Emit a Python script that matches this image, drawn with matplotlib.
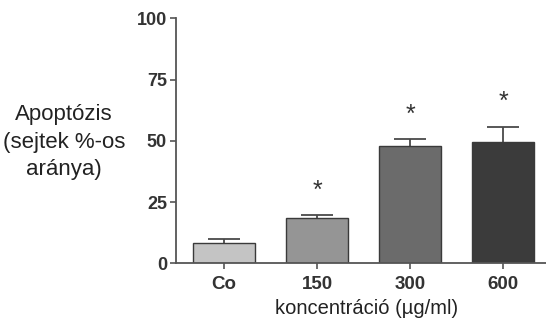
import matplotlib.pyplot as plt

# adatok
categories = ['Co', '150', '300', '600']
means = [8.3, 18.6, 47.9, 49.6]
errors = [1.5, 1.0, 2.7, 6.2]
significant = [False, True, True, True]
bar_colors = ['#c4c4c4', '#959595', '#6b6b6b', '#3b3b3b']
yticks = [0, 25, 50, 75, 100]

plt.rcParams['font.family'] = ['Liberation Sans', 'DejaVu Sans']

fig = plt.figure(figsize=(5.46, 3.22), dpi=100)
ax = fig.add_axes([0.3223, 0.1823, 0.6777, 0.7609])

x = range(len(categories))
ax.errorbar(x, means, yerr=errors, fmt='none', ecolor='#4a4a4a',
            elinewidth=1.3, capsize=11.5, capthick=1.3, zorder=1)
ax.bar(x, means, width=0.667, color=bar_colors, edgecolor='#3a3a3a',
       linewidth=1.0, zorder=2)

# csillagok a szignifikáns értékek fölött
for i, (m, e, s) in enumerate(zip(means, errors, significant)):
    if s:
        ax.text(i, m + e + 10, '*', ha='center', va='center',
                fontsize=18, color='#333333')

ax.set_xlim(-0.516, 3.46)
ax.set_ylim(0, 100)
ax.set_xticks(list(x))
ax.set_xticklabels(categories, fontsize=13.5, fontweight='bold', color='#333333')
ax.set_yticks(yticks)
ax.set_yticklabels([str(t) for t in yticks], fontsize=13, fontweight='bold',
                   color='#333333')
ax.tick_params(axis='both', color='#555555', width=1.2, length=4.5)
ax.tick_params(axis='x', pad=5)
ax.tick_params(axis='y', pad=2)

for side in ['top', 'right']:
    ax.spines[side].set_visible(False)
for side in ['left', 'bottom']:
    ax.spines[side].set_color('#555555')
    ax.spines[side].set_linewidth(1.3)

fig.text(367 / 546, 1 - 309 / 322, 'koncentráció (µg/ml)',
         ha='center', va='center', fontsize=14.5, color='#222222')
fig.text(64 / 546, 1 - 142 / 322, 'Apoptózis\n(sejtek %-os\naránya)',
         ha='center', va='center', fontsize=16, color='#222222', linespacing=1.38)

fig.savefig('out.png', dpi=100)
